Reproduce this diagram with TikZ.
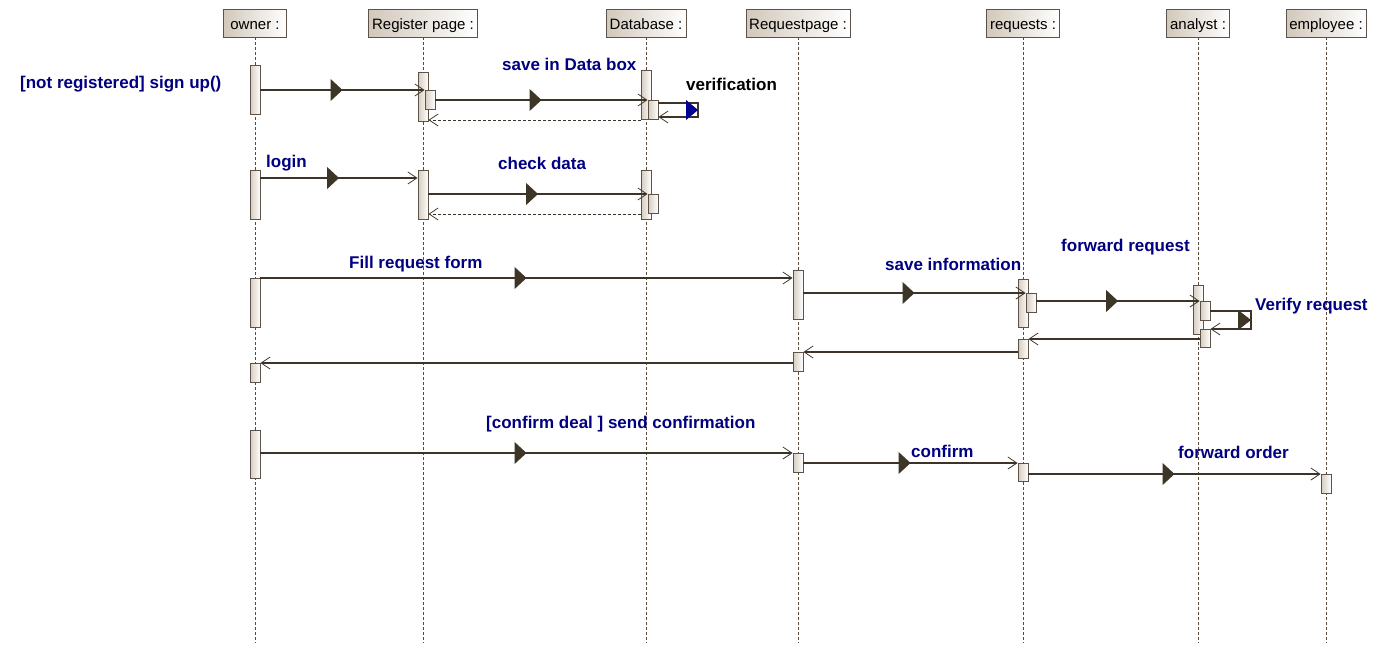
\documentclass[tikz,border=0pt]{standalone}
\usepackage{fontspec}
\setmainfont{Liberation Sans}
\usetikzlibrary{arrows.meta,decorations.markings,calc}
\definecolor{lineC}{HTML}{3C3428}
\definecolor{borderC}{HTML}{5E5248}
\definecolor{lifeC}{HTML}{5A4A3C}
\definecolor{hdrL}{HTML}{D2C8BB}
\definecolor{barL}{HTML}{D5CCC0}
\definecolor{triC}{HTML}{3D3526}
\definecolor{navyC}{HTML}{000080}
\definecolor{blueT}{HTML}{000090}
\tikzset{
  hdr/.style={draw=borderC, line width=0.8pt, left color=hdrL, right color=white,
    minimum height=28pt, inner sep=0pt, text height=13pt, text depth=0pt,
    font=\fontsize{15}{18}\selectfont},
  bar/.style={draw=borderC, line width=0.8pt, left color=barL, right color=white,
    minimum width=10pt, inner sep=0pt},
  life/.style={draw=lifeC, dash pattern=on 3pt off 2pt, line width=0.7pt},
  opentip/.style={-{Straight Barb[length=9pt,width=12pt,line width=0.8pt]}},
  msg/.style={draw=lineC, line width=1.1pt, opentip, postaction={decorate},
    decoration={markings, mark=at position 0.5 with {\arrow{Triangle[length=12pt,width=22pt,color=triC]}}}},
  rep/.style={draw=lineC, line width=1.1pt, opentip},
  ret/.style={draw=lineC, line width=0.8pt, dash pattern=on 3pt off 2pt, opentip},
  lbl/.style={font=\fontsize{17}{20}\selectfont\bfseries, text=navyC, inner sep=0pt, anchor=west},
}
\newcommand{\actbar}[4]{\node[bar, minimum height={(#4-#3)*1pt}] (#1) at (#2,{(#3+#4)/2}) {};}
\begin{document}
\begin{tikzpicture}[x=1pt,y=-1pt]
\useasboundingbox[fill=white] (0,0) rectangle (1391,654);
% headers
\node[hdr, minimum width=63pt]  (owner) at (255,23) {owner :};
\node[hdr, minimum width=109pt] (reg)   at (423,23) {Register page :};
\node[hdr, minimum width=80pt]  (db)    at (646,23) {Database :};
\node[hdr, minimum width=104pt] (rqp)   at (798,23) {Requestpage :};
\node[hdr, minimum width=73pt]  (rqs)   at (1023,23) {requests :};
\node[hdr, minimum width=63pt]  (an)    at (1198,23) {analyst :};
\node[hdr, minimum width=80pt]  (emp)   at (1326,23) {employee :};
% lifelines
\foreach \n in {owner,reg,db,rqp,rqs,an,emp}{
  \draw[life] (\n.south) -- (\n.south |- 0,643);
}
% activation bars
\actbar{o1}{255}{65}{114}
\actbar{r1}{423}{72}{121}
\actbar{r1n}{430}{90}{109}
\actbar{d1}{646}{70}{119}
\actbar{d1n}{653}{100}{119}
\actbar{o2}{255}{170}{219}
\actbar{r2}{423}{170}{219}
\actbar{d2}{646}{170}{219}
\actbar{d2n}{653}{194}{213}
\actbar{o3}{255}{278}{327}
\actbar{q1}{798}{270}{319}
\actbar{s1}{1023}{279}{327}
\actbar{s1n}{1031}{293}{312}
\actbar{a1}{1198}{285}{334}
\actbar{a1n}{1205}{301}{320}
\actbar{a1m}{1205}{329}{347}
\actbar{s2}{1023}{339}{358}
\actbar{q2}{798}{352}{371}
\actbar{o4}{255}{363}{382}
\actbar{o5}{255}{430}{478}
\actbar{q3}{798}{453}{472}
\actbar{s3}{1023}{463}{481}
\actbar{e1}{1326}{474}{493}
% row 1
\draw[msg] (o1.east |- 0,90) -- (r1n.west |- 0,90);
\draw[msg] (r1n.east |- 0,100) -- (d1n.west |- 0,100);
\coordinate (v1) at (698,103);
\coordinate (v2) at (698,117);
\draw[rep] (d1n.east |- v1) -- (v1) -- (v2) -- (d1n.east |- v2);
\fill[blueT] (686,100) -- (698,110) -- (686,120) -- cycle;
\draw[ret] (d1.west |- 0,120) -- (r1.east |- 0,120);
% row 2
\draw[msg] (o2.east |- 0,178) -- (r2.west |- 0,178);
\draw[msg] (r2.east |- 0,194) -- (d2n.west |- 0,194);
\draw[ret] (d2.west |- 0,214) -- (r2.east |- 0,214);
% row 3
\draw[msg] (o3.east |- 0,278) -- (q1.west |- 0,278);
\draw[msg] (q1.east |- 0,293) -- (s1n.west |- 0,293);
\draw[msg] (s1n.east |- 0,301) -- (a1n.west |- 0,301);
\coordinate (w1) at (1251,311);
\coordinate (w2) at (1251,329);
\draw[rep] (a1n.east |- w1) -- (w1) -- (w2) -- (a1m.east |- w2);
\fill[triC] (1238,310) -- (1251,320) -- (1238,330) -- cycle;
\draw[rep] (a1m.west |- 0,339) -- (s2.east |- 0,339);
\draw[rep] (s2.west |- 0,352) -- (q2.east |- 0,352);
\draw[rep] (q2.west |- 0,363) -- (o4.east |- 0,363);
% row 4
\draw[msg] (o5.east |- 0,453) -- (q3.west |- 0,453);
\draw[msg] (q3.east |- 0,463) -- (s3.west |- 0,463);
\draw[msg] (s3.east |- 0,474) -- (e1.west |- 0,474);
% labels
\node[lbl] (t1) at (20,84) {[not registered] sign up()};
\node[lbl] (t2) at (502,64) {save in Data box};
\node[lbl, text=black] (t3) at (686,84) {verification};
\node[lbl] (t4) at (266,163) {login};
\node[lbl] (t5) at (498,163) {check data};
\node[lbl] (t6) at (349,264) {Fill request form};
\node[lbl] (t7) at (885,264) {save information};
\node[lbl] (t8) at (1061,247) {forward request};
\node[lbl] (t9) at (1255,306) {Verify request};
\node[lbl] (t10) at (486,424) {[confirm deal ] send confirmation};
\node[lbl] (t11) at (911,451) {confirm};
\node[lbl] (t12) at (1178,452) {forward order};
\end{tikzpicture}
\end{document}
